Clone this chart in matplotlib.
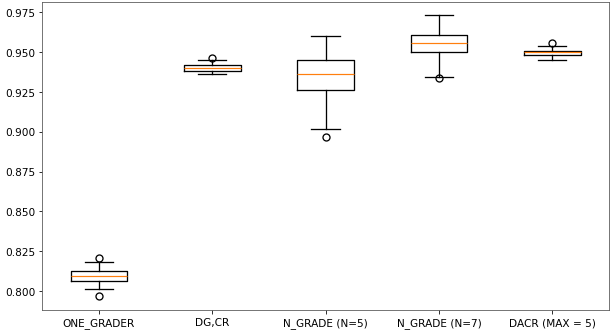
import matplotlib
matplotlib.use("Agg")
import matplotlib.pyplot as plt

# categories and box statistics
labels = ["ONE_GRADER", "DG,CR", "N_GRADE (N=5)", "N_GRADE (N=7)", "DACR (MAX = 5)"]
medians = [0.8094, 0.9398, 0.9358, 0.9556, 0.9498]
q1s = [0.8063, 0.9379, 0.9258, 0.9500, 0.9477]
q3s = [0.8125, 0.9414, 0.9448, 0.9606, 0.9504]
whis_lo = [0.8014, 0.9358, 0.9013, 0.9341, 0.9450]
whis_hi = [0.8185, 0.9448, 0.9598, 0.9727, 0.9533]
outliers = [[0.8206, 0.7969], [0.9463], [0.8963], [0.9333], [0.9554]]

stats = []
for i in range(len(labels)):
    stats.append({
        "label": labels[i],
        "med": medians[i],
        "q1": q1s[i],
        "q3": q3s[i],
        "whislo": whis_lo[i],
        "whishi": whis_hi[i],
        "fliers": outliers[i],
    })

fig, ax = plt.subplots(figsize=(8.5, 4.61), dpi=72)
fig.subplots_adjust(left=0.069, right=0.995, bottom=0.063, top=0.99)

lw = 1.3
ax.bxp(stats, showfliers=True,
       boxprops=dict(linewidth=lw),
       whiskerprops=dict(linewidth=lw),
       capprops=dict(linewidth=lw),
       medianprops=dict(linewidth=1.2, color="C1"),
       flierprops=dict(markersize=7, markeredgewidth=1.3))
ax.set_ylim(0.7883, 0.9808)
ax.set_yticks([0.800, 0.825, 0.850, 0.875, 0.900, 0.925, 0.950, 0.975])
ax.set_yticklabels([f"{v:.3f}" for v in ax.get_yticks()])
ax.tick_params(labelsize=10.5)
for s in ax.spines.values():
    s.set_edgecolor("#555555")

fig.savefig("out.png", dpi=72)
